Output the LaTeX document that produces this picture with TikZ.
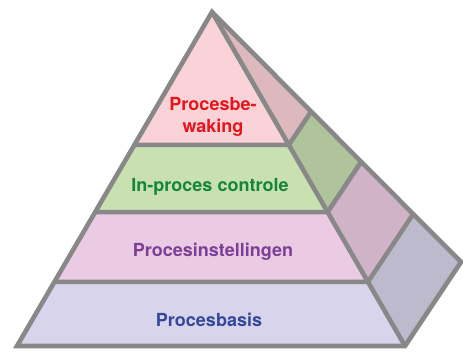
\documentclass[tikz,border=0pt]{standalone}
\usepackage{fontspec}
\setmainfont{TeX Gyre Heros}
\usepackage{tikz}
\usetikzlibrary{calc}

\definecolor{pyrgray}{HTML}{888888}
\definecolor{frontA}{HTML}{F9D3D8}
\definecolor{backA}{HTML}{DDB8BC}
\definecolor{frontB}{HTML}{C9E1B1}
\definecolor{backB}{HTML}{B0C49C}
\definecolor{frontC}{HTML}{EBCBE3}
\definecolor{backC}{HTML}{D1B3C8}
\definecolor{frontD}{HTML}{D7D4EB}
\definecolor{backD}{HTML}{BDBACE}
\definecolor{textA}{HTML}{E8141C}
\definecolor{textB}{HTML}{14853A}
\definecolor{textC}{HTML}{7B3F96}
\definecolor{textD}{HTML}{34489A}

\begin{document}
\begin{tikzpicture}[
            x = 1pt, y = -1pt, % pixel like units
            edge/.style = {draw = pyrgray, line width = 4.6pt, line join = miter},
            layertext/.style = {font = \bfseries\fontsize{18}{21.5}\selectfont, align = center}
        ]

        \useasboundingbox (0,0) rectangle (463,351);

        % corners of the pyramid
        \coordinate (top) at (212,12);
        \coordinate (bl) at (17,346);
        \coordinate (br) at (405,346);
        \coordinate (back) at (461,262);

        % points where the layers cut the edges
        \foreach \t/\n in {0.398/1, 0.599/2, 0.808/3} {
            \coordinate (l\n) at ($(top)!\t!(bl)$);
            \coordinate (r\n) at ($(top)!\t!(br)$);
            \coordinate (b\n) at ($(top)!\t!(back)$);
        }
        \coordinate (l4) at (bl);
        \coordinate (r4) at (br);
        \coordinate (b4) at (back);

        % front faces
        \fill[frontA] (top) -- (r1) -- (l1) -- cycle;
        \fill[frontB] (l1) -- (r1) -- (r2) -- (l2) -- cycle;
        \fill[frontC] (l2) -- (r2) -- (r3) -- (l3) -- cycle;
        \fill[frontD] (l3) -- (r3) -- (r4) -- (l4) -- cycle;

        % side faces
        \fill[backA] (top) -- (b1) -- (r1) -- cycle;
        \fill[backB] (r1) -- (b1) -- (b2) -- (r2) -- cycle;
        \fill[backC] (r2) -- (b2) -- (b3) -- (r3) -- cycle;
        \fill[backD] (r3) -- (b3) -- (b4) -- (r4) -- cycle;

        % outlines
        \foreach \n in {1,2,3} {
            \draw[edge] (l\n) -- (r\n) -- (b\n);
        }
        \draw[edge] (top) -- (br);
        \draw[edge] (top) -- (bl) -- (br) -- (back) -- cycle;

        % labels
        \node[layertext, text = textA] (waking) at (213,117) {Procesbe-\\waking};
        \node[layertext, text = textB] (controle) at (210,187) {In-proces controle};
        \node[layertext, text = textC] (instel) at (213,252) {Procesinstellingen};
        \node[layertext, text = textD] (basis) at (209,320) {Procesbasis};

  \end{tikzpicture}
\end{document}
